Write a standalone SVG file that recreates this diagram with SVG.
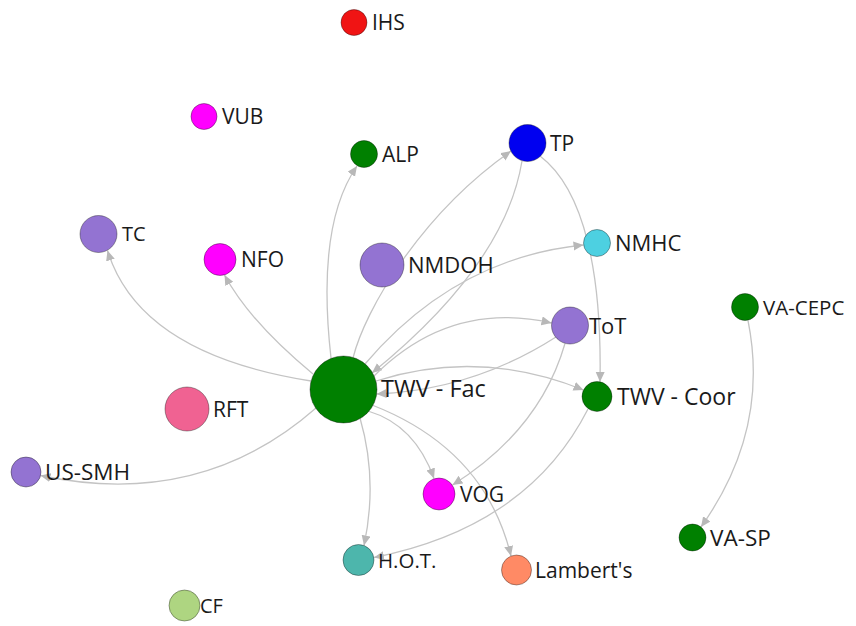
<svg xmlns="http://www.w3.org/2000/svg" width="856" height="626" viewBox="0 0 856 626">
<defs>
<marker id="arr" markerUnits="userSpaceOnUse" markerWidth="12" markerHeight="10" refX="10" refY="4.5" orient="auto">
<path d="M0,0 L10,4.5 L0,9 z" fill="#b8b8b8"/>
</marker>
<style>
.e{fill:none;stroke:#c4c4c4;stroke-width:1.3;marker-end:url(#arr)}
.n{stroke:#000;stroke-opacity:.35;stroke-width:1}
.l{font-family:"Open Sans","Noto Sans",sans-serif;font-size:21px;fill:#1a1a1a}
.pu{fill:#9373d2}.mg{fill:#ff00ff}.gr{fill:#008000}
</style>
</defs>
<rect width="856" height="626" fill="#fff"/>
<g id="connectors">
<path class="e" d="M331,358 Q316,225 357,166"/>
<path class="e" d="M353,358 C365,310 420,215 511,151"/>
<path class="e" d="M522,161 Q505,265 372,373"/>
<path class="e" d="M365,364 Q455,258 583.5,245"/>
<path class="e" d="M374,376 Q450,300 551.5,323"/>
<path class="e" d="M556,337 Q473,390 376.5,394"/>
<path class="e" d="M376,381 Q479,348 583.5,390"/>
<path class="e" d="M540,156 C585,190 602,275 600,382"/>
<path class="e" d="M565,343.5 Q540,430 452.5,485"/>
<path class="e" d="M368,411 Q415,425 434,478.5"/>
<path class="e" d="M372,405 Q485,449 511,556"/>
<path class="e" d="M360,418 Q378,480 364,545.5"/>
<path class="e" d="M588,409 Q528,527 374,557.5"/>
<path class="e" d="M311,381 Q139.5,354 107.5,250.5"/>
<path class="e" d="M313,374 Q250,322 224.5,275"/>
<path class="e" d="M316,408 Q200.5,509.5 40.5,475.5"/>
<path class="e" d="M748,320.5 Q770,430 701,527"/>
</g>
<g id="IHS"><circle class="n" cx="354" cy="22.5" r="13" fill="#f01414"/><text class="l" x="372" y="30">IHS</text></g>
<g id="VUB"><circle class="n mg" cx="204" cy="116.5" r="13"/><text class="l" x="222" y="124">VUB</text></g>
<g id="ALP"><circle class="n gr" cx="364" cy="154" r="13.5"/><text class="l" x="382" y="161.5">ALP</text></g>
<g id="TP"><circle class="n" cx="527.5" cy="143" r="18.5" fill="#0000f0"/><text class="l" x="550" y="150.5">TP</text></g>
<g id="NMHC"><circle class="n" cx="597" cy="243" r="13.5" fill="#4dd0e1"/><text class="l" x="615" y="251" style="font-size:22px">NMHC</text></g>
<g id="TC"><circle class="n pu" cx="98.5" cy="234" r="18.5"/><text class="l" x="122" y="241" style="font-size:20px">TC</text></g>
<g id="NFO"><circle class="n mg" cx="220" cy="259.5" r="16"/><text class="l" x="241" y="267">NFO</text></g>
<g id="NMDOH"><circle class="n pu" cx="382" cy="265" r="22"/><text class="l" x="408" y="273" style="font-size:22px">NMDOH</text></g>
<g id="ToT"><circle class="n pu" cx="570" cy="325.5" r="18.5"/><text class="l" x="589" y="333.5" style="font-size:22px">ToT</text></g>
<g id="VA-CEPC"><circle class="n gr" cx="745" cy="307" r="13.5"/><text class="l" x="763" y="314.5" style="font-size:20.5px">VA-CEPC</text></g>
<g id="TWV-Fac"><circle class="n gr" cx="343.5" cy="389.5" r="33.5"/><text class="l" x="381" y="397" style="font-size:23.5px">TWV - Fac</text></g>
<g id="RFT"><circle class="n" cx="187" cy="409" r="22" fill="#f06292"/><text class="l" x="213" y="416.5">RFT</text></g>
<g id="TWV-Coor"><circle class="n gr" cx="597" cy="396.5" r="15"/><text class="l" x="617" y="404.5" style="font-size:23px">TWV - Coor</text></g>
<g id="US-SMH"><circle class="n pu" cx="26" cy="472" r="15"/><text class="l" x="45" y="480" style="font-size:22.5px">US-SMH</text></g>
<g id="VOG"><circle class="n mg" cx="439" cy="494" r="16"/><text class="l" x="460" y="502">VOG</text></g>
<g id="VA-SP"><circle class="n gr" cx="692.5" cy="537.5" r="13.5"/><text class="l" x="710" y="545.5" style="font-size:22.5px">VA-SP</text></g>
<g id="HOT"><circle class="n" cx="358.5" cy="560" r="15.5" fill="#4db6ac"/><text class="l" x="378" y="567.5" style="font-size:20.5px">H.O.T.</text></g>
<g id="Lamberts"><circle class="n" cx="516.5" cy="570" r="15" fill="#ff8a65"/><text class="l" x="535" y="577.5">Lambert's</text></g>
<g id="CF"><circle class="n" cx="184.5" cy="605.5" r="15.5" fill="#aed581"/><text class="l" x="200" y="613" style="font-size:20px">CF</text></g>
</svg>
